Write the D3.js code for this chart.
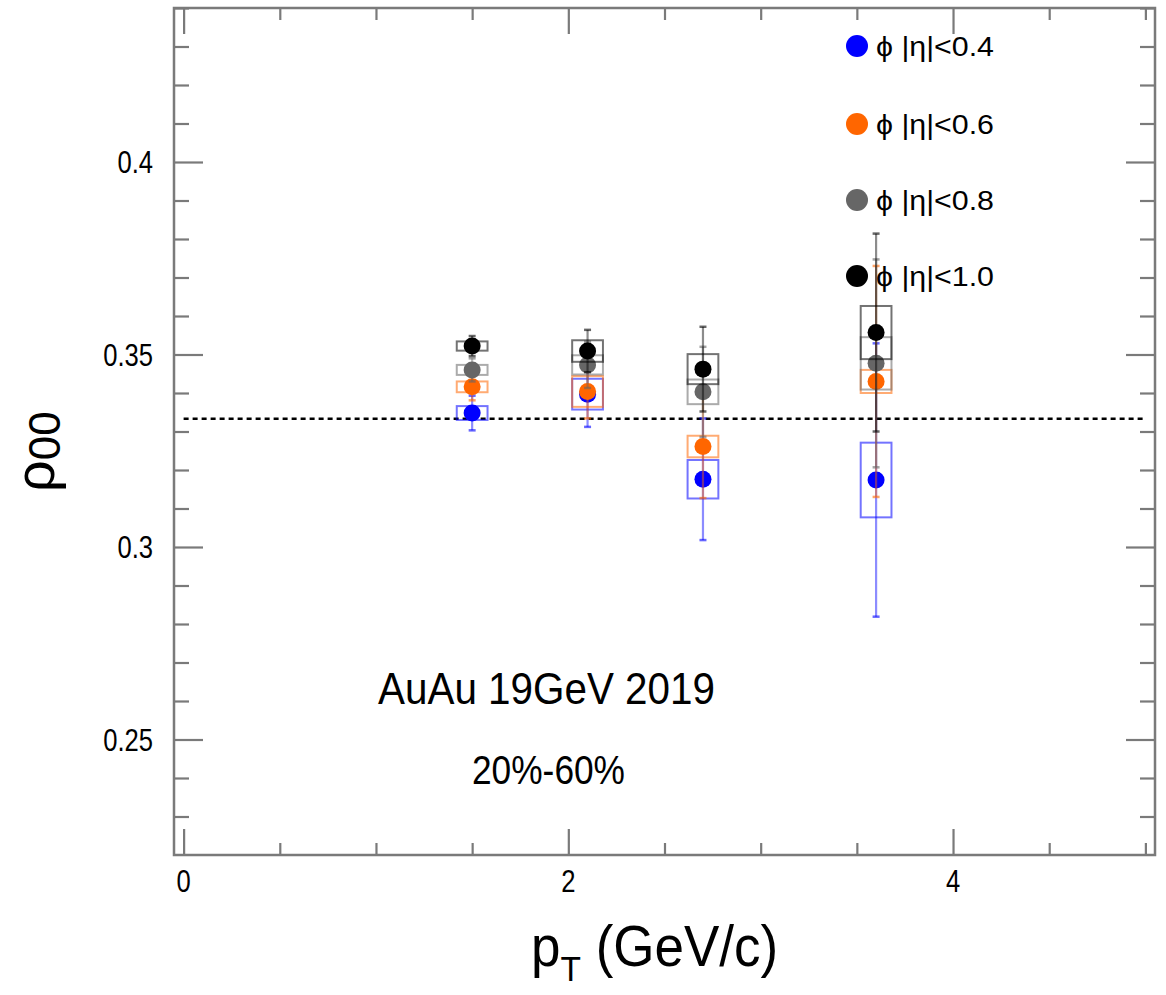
<!DOCTYPE html>
<html><head><meta charset="utf-8">
<script src="https://cdn.jsdelivr.net/npm/d3@7"></script>
<style>
html,body{margin:0;padding:0;background:#fff;}
text{font-family:"Liberation Sans",Arial,Helvetica,sans-serif;}
</style></head>
<body><svg id="c" width="1166" height="995"></svg>
<script>
// ---- data ----
const pt = [1.5, 2.1, 2.7, 3.6];
const rho04 = [0.3348, 0.3397, 0.3176, 0.3174];
const stat04 = [0.0045, 0.0085, 0.0158, 0.0355];
const sys04 = [0.0018, 0.0040, 0.0050, 0.0097];
const rho06 = [0.3416, 0.3404, 0.3261, 0.3430];
const stat06 = [0.0035, 0.0070, 0.0134, 0.0300];
const sys06 = [0.0014, 0.0040, 0.0028, 0.0030];
const rho08 = [0.3460, 0.3473, 0.3403, 0.3477];
const stat08 = [0.0030, 0.0060, 0.0117, 0.0270];
const sys08 = [0.0013, 0.0025, 0.0032, 0.0068];
const rho10 = [0.3522, 0.3509, 0.3462, 0.3557];
const stat10 = [0.0026, 0.0055, 0.0110, 0.0257];
const sys10 = [0.0012, 0.0028, 0.0039, 0.0069];
const seriesNames = ["ϕ |η|<0.4", "ϕ |η|<0.6", "ϕ |η|<0.8", "ϕ |η|<1.0"];
const seriesColors = ["#0000ff", "#ff6600", "#666666", "#000000"];
const yMajorTicks = [0.25, 0.3, 0.35, 0.4];
const yTickLabels = ["0.25", "0.3", "0.35", "0.4"];
const xMajorTicks = [0, 2, 4];
const xTickLabels = ["0", "2", "4"];
const refLine = 1/3;
const boxHalfWidth = 0.08;

const series = [
  {rho: rho04, stat: stat04, sys: sys04},
  {rho: rho06, stat: stat06, sys: sys06},
  {rho: rho08, stat: stat08, sys: sys08},
  {rho: rho10, stat: stat10, sys: sys10}
];

const svg = d3.select("#c");
const L = 174, R = 1155, T = 8, B = 855;
const x = d3.scaleLinear().domain([-0.05, 5.05]).range([L, R]);
const y = d3.scaleLinear().domain([0.22, 0.44]).range([B, T]);
const axisColor = "#7a7a7a";

const xMinor = d3.range(0, 5.001, 0.5).filter(v => !xMajorTicks.some(m => Math.abs(m - v) < 1e-6));
const yMinor = d3.range(0.23, 0.4401, 0.01).filter(v => !yMajorTicks.some(m => Math.abs(m - v) < 1e-6));

function ticks(axisGen, vals, size) {
  return axisGen.tickValues(vals).tickSize(size).tickFormat("");
}
function styleAxis(g) {
  g.select(".domain").remove();
  g.selectAll(".tick line").attr("stroke", axisColor).attr("stroke-width", 2.2);
}
svg.append("g").attr("transform", `translate(0,${B})`).call(ticks(d3.axisTop(x), xMajorTicks, 26)).call(styleAxis);
svg.append("g").attr("transform", `translate(0,${B})`).call(ticks(d3.axisTop(x), xMinor, 12)).call(styleAxis);
svg.append("g").attr("transform", `translate(0,${T})`).call(ticks(d3.axisBottom(x), xMajorTicks, 26)).call(styleAxis);
svg.append("g").attr("transform", `translate(0,${T})`).call(ticks(d3.axisBottom(x), xMinor, 12)).call(styleAxis);
svg.append("g").attr("transform", `translate(${L},0)`).call(ticks(d3.axisRight(y), yMajorTicks, 29)).call(styleAxis);
svg.append("g").attr("transform", `translate(${L},0)`).call(ticks(d3.axisRight(y), yMinor, 15)).call(styleAxis);
svg.append("g").attr("transform", `translate(${R},0)`).call(ticks(d3.axisLeft(y), yMajorTicks, 29)).call(styleAxis);
svg.append("g").attr("transform", `translate(${R},0)`).call(ticks(d3.axisLeft(y), yMinor, 15)).call(styleAxis);

svg.append("rect").attr("x", L).attr("y", T).attr("width", R - L).attr("height", B - T)
  .attr("fill", "none").attr("stroke", axisColor).attr("stroke-width", 2.5);

function condensed(sel, sx) {
  sel.attr("transform", function() {
    const xx = +d3.select(this).attr("data-x"), yy = +d3.select(this).attr("data-y");
    return `translate(${xx},${yy}) scale(${sx},1)`;
  });
}
svg.append("g").selectAll("text").data(xMajorTicks).join("text")
  .attr("data-x", d => x(d)).attr("data-y", 892).attr("text-anchor", "middle")
  .attr("font-size", 32).text((d, i) => xTickLabels[i]).call(condensed, 0.8);
svg.append("g").selectAll("text").data(yMajorTicks).join("text")
  .attr("data-x", 153).attr("data-y", d => y(d) + 11).attr("text-anchor", "end")
  .attr("font-size", 32).text((d, i) => yTickLabels[i]).call(condensed, 0.8);

// axis titles
const xt = svg.append("text").attr("transform", "translate(531,966) scale(0.93,1)").attr("font-size", 57);
xt.append("tspan").text("p");
xt.append("tspan").attr("font-size", 36).attr("dy", 15).text("T");
xt.append("tspan").attr("dy", -15).text(" (GeV/c)");

const yt = svg.append("text").attr("transform", "translate(54,492) rotate(-90)").attr("font-size", 56);
yt.append("tspan").text("ρ");
yt.append("tspan").attr("font-size", 44).attr("dy", 6).text("00");

// reference dashed line
svg.append("line").attr("x1", x(0)).attr("x2", x(5)).attr("y1", y(refLine)).attr("y2", y(refLine))
  .attr("stroke", "#000").attr("stroke-width", 2.5).attr("stroke-dasharray", "5,4");

// data
series.forEach((s, si) => {
  const c = seriesColors[si];
  const g = svg.append("g");
  pt.forEach((p, i) => {
    const v = s.rho[i];
    g.append("rect")
      .attr("x", x(p - boxHalfWidth)).attr("width", x(p + boxHalfWidth) - x(p - boxHalfWidth))
      .attr("y", y(v + s.sys[i])).attr("height", y(v - s.sys[i]) - y(v + s.sys[i]))
      .attr("fill", "none").attr("stroke", c).attr("stroke-width", 2).attr("stroke-opacity", 0.55);
    g.append("line").attr("x1", x(p)).attr("x2", x(p))
      .attr("y1", y(v + s.stat[i])).attr("y2", y(v - s.stat[i]))
      .attr("stroke", c).attr("stroke-width", 2.2).attr("stroke-opacity", 0.45);
    [v + s.stat[i], v - s.stat[i]].forEach(e => {
      g.append("line").attr("x1", x(p) - 3.5).attr("x2", x(p) + 3.5)
        .attr("y1", y(e)).attr("y2", y(e))
        .attr("stroke", c).attr("stroke-width", 2.5).attr("stroke-opacity", 0.6);
    });
  });
  g.selectAll("circle").data(pt).join("circle")
    .attr("cx", d => x(d)).attr("cy", (d, i) => y(s.rho[i])).attr("r", 8.5).attr("fill", c);
});

// legend
const legY = [46, 124, 200, 276];
const leg = svg.append("g");
seriesNames.forEach((n, i) => {
  leg.append("circle").attr("cx", 857).attr("cy", legY[i]).attr("r", 11).attr("fill", seriesColors[i]);
  leg.append("text").attr("x", 876).attr("y", legY[i] + 10).attr("font-size", 27)
    .attr("textLength", 118).attr("lengthAdjust", "spacingAndGlyphs").text(n);
});

// annotations
svg.append("text").attr("x", 378).attr("y", 704).attr("font-size", 44)
  .attr("textLength", 337).attr("lengthAdjust", "spacingAndGlyphs").text("AuAu 19GeV 2019");
svg.append("text").attr("x", 472).attr("y", 784).attr("font-size", 40)
  .attr("textLength", 153).attr("lengthAdjust", "spacingAndGlyphs").text("20%-60%");
</script></body></html>
